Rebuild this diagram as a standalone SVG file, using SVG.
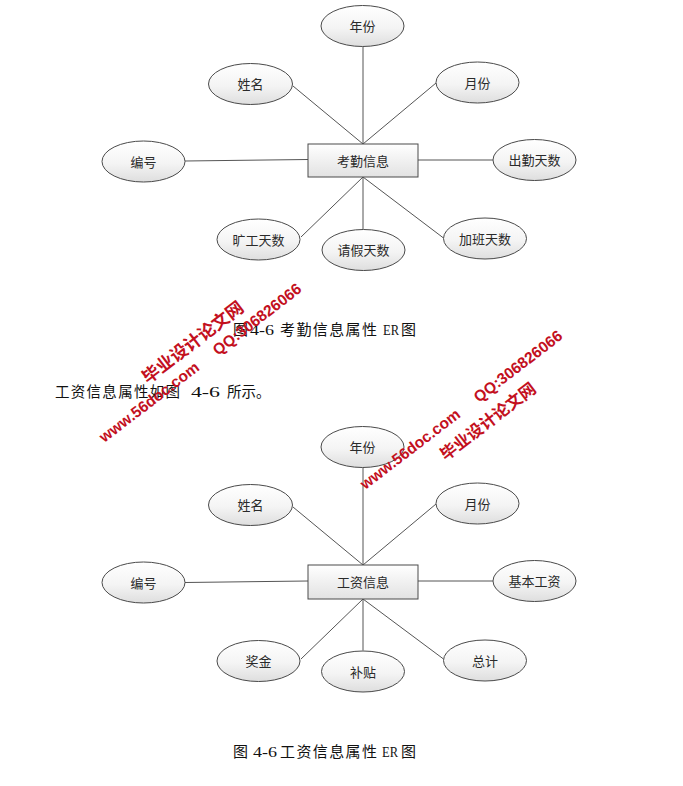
<svg xmlns="http://www.w3.org/2000/svg" width="683" height="786" viewBox="0 0 683 786">
<defs>
<linearGradient id="eg" x1="0" y1="0" x2="0" y2="1">
<stop offset="0" stop-color="#ffffff"/>
<stop offset="0.55" stop-color="#f4f4f4"/>
<stop offset="1" stop-color="#dedede"/>
</linearGradient>
<linearGradient id="bg" x1="0" y1="0" x2="0" y2="1">
<stop offset="0" stop-color="#ffffff"/>
<stop offset="1" stop-color="#e2e2e2"/>
</linearGradient>
</defs>
<style>
.e{fill:url(#eg);stroke:#4a4a4a;stroke-width:1}
.b{fill:url(#bg);stroke:#4a4a4a;stroke-width:1}
.t{font-family:"Noto Sans CJK SC","Liberation Sans",sans-serif;font-size:13px;fill:#2a2a2a;text-anchor:middle}
.c{stroke:#555;stroke-width:1;fill:none}
.cap{font-family:"Liberation Serif","Noto Sans CJK SC",serif;font-size:15px;fill:#111}
.para{font-family:"Liberation Serif","Noto Sans CJK SC",serif;font-size:14.5px;fill:#111}
.w1{font-family:"Liberation Sans",Arial,sans-serif;font-weight:bold;font-size:15.5px;fill:#c3101e}
.w2{font-family:"Noto Sans CJK SC",sans-serif;font-weight:bold;fill:#c3101e;text-anchor:middle}
</style>
<rect width="683" height="786" fill="#ffffff"/>

<g id="connectors">
<line class="c" x1="363" y1="46.5" x2="363" y2="144"/>
<line class="c" x1="293" y1="86" x2="363" y2="144"/>
<line class="c" x1="436" y1="83" x2="363" y2="144"/>
<line class="c" x1="185" y1="161" x2="308" y2="159.5"/>
<line class="c" x1="418" y1="160" x2="493" y2="160"/>
<line class="c" x1="363" y1="177" x2="301" y2="237"/>
<line class="c" x1="363" y1="177" x2="363" y2="229.5"/>
<line class="c" x1="363" y1="177" x2="443.5" y2="238"/>

<line class="c" x1="363" y1="467.5" x2="363" y2="565"/>
<line class="c" x1="293" y1="507" x2="363" y2="565"/>
<line class="c" x1="436" y1="504" x2="363" y2="565"/>
<line class="c" x1="185" y1="582.5" x2="308" y2="581"/>
<line class="c" x1="418" y1="581" x2="493" y2="581"/>
<line class="c" x1="363" y1="599" x2="301" y2="659"/>
<line class="c" x1="363" y1="599" x2="363" y2="650.5"/>
<line class="c" x1="363" y1="599" x2="443.5" y2="659"/>
</g>

<g id="kaoqin">
<rect class="b" x="308" y="144" width="110" height="33"/>
<text class="t" x="363" y="165.5">考勤信息</text>
</g>
<g id="nianfen1"><ellipse class="e" cx="362.5" cy="26" rx="41.5" ry="20.5"/><text class="t" x="362.5" y="31">年份</text></g>
<g id="xingming1"><ellipse class="e" cx="250.5" cy="84" rx="42" ry="20.5"/><text class="t" x="250.5" y="89">姓名</text></g>
<g id="yuefen1"><ellipse class="e" cx="477.5" cy="82.5" rx="41.5" ry="20.5"/><text class="t" x="477.5" y="87.5">月份</text></g>
<g id="bianhao1"><ellipse class="e" cx="143.5" cy="161.5" rx="41.5" ry="20.5"/><text class="t" x="143.5" y="166.5">编号</text></g>
<g id="chuqin"><ellipse class="e" cx="534.5" cy="160" rx="41.5" ry="20.5"/><text class="t" x="534.5" y="165">出勤天数</text></g>
<g id="kuanggong"><ellipse class="e" cx="258.5" cy="239.5" rx="41.5" ry="20.5"/><text class="t" x="258.5" y="244.5">旷工天数</text></g>
<g id="qingjia"><ellipse class="e" cx="363.5" cy="250" rx="41.5" ry="20.5"/><text class="t" x="363.5" y="255">请假天数</text></g>
<g id="jiaban"><ellipse class="e" cx="485" cy="238.5" rx="41.5" ry="20.5"/><text class="t" x="485" y="243.5">加班天数</text></g>

<g id="caption1">
<text class="cap" y="335"><tspan x="233">图</tspan><tspan x="250" textLength="24" lengthAdjust="spacingAndGlyphs">4-6</tspan><tspan x="280" textLength="97">考勤信息属性</tspan><tspan x="383" textLength="16" lengthAdjust="spacingAndGlyphs">ER</tspan><tspan x="401">图</tspan></text>
</g>

<g id="paragraph">
<text class="para" y="397"><tspan x="55" textLength="125">工资信息属性如图</tspan><tspan x="191" textLength="29" lengthAdjust="spacingAndGlyphs">4-6</tspan><tspan x="227">所示。</tspan></text>
</g>

<g id="gongzi">
<rect class="b" x="308" y="565" width="110" height="34"/>
<text class="t" x="363" y="587">工资信息</text>
</g>
<g id="nianfen2"><ellipse class="e" cx="362.5" cy="447" rx="41.5" ry="20.5"/><text class="t" x="362.5" y="452">年份</text></g>
<g id="xingming2"><ellipse class="e" cx="250.5" cy="505" rx="42" ry="20.5"/><text class="t" x="250.5" y="510">姓名</text></g>
<g id="yuefen2"><ellipse class="e" cx="477.5" cy="503.5" rx="41.5" ry="20.5"/><text class="t" x="477.5" y="508.5">月份</text></g>
<g id="bianhao2"><ellipse class="e" cx="143.5" cy="582.5" rx="41.5" ry="20.5"/><text class="t" x="143.5" y="587.5">编号</text></g>
<g id="jibengongzi"><ellipse class="e" cx="534.5" cy="581" rx="41.5" ry="20.5"/><text class="t" x="534.5" y="586">基本工资</text></g>
<g id="jiangjin"><ellipse class="e" cx="258.5" cy="661" rx="41.5" ry="20.5"/><text class="t" x="258.5" y="666">奖金</text></g>
<g id="butie"><ellipse class="e" cx="363" cy="671.5" rx="41.5" ry="20.5"/><text class="t" x="363" y="676.5">补贴</text></g>
<g id="zongji"><ellipse class="e" cx="485" cy="660.5" rx="41.5" ry="20.5"/><text class="t" x="485" y="665.5">总计</text></g>

<g id="caption2">
<text class="cap" y="757"><tspan x="233">图</tspan><tspan x="253" textLength="24" lengthAdjust="spacingAndGlyphs">4-6</tspan><tspan x="280" textLength="97">工资信息属性</tspan><tspan x="382" textLength="16" lengthAdjust="spacingAndGlyphs">ER</tspan><tspan x="401">图</tspan></text>
</g>

<g id="watermark1" transform="translate(200.5,363) rotate(-37.5)">
<text class="w1" x="-125" y="5" textLength="121">www.56doc.com</text>
<text class="w1" x="18" y="5" textLength="107">QQ:306826066</text>
<text class="w2" x="6.5" y="-15" font-size="17.5">毕业设计论文网</text>
</g>
<g id="watermark2" transform="translate(461.5,410) rotate(-37.5)">
<text class="w1" x="-125" y="5" textLength="121">www.56doc.com</text>
<text class="w1" x="18" y="5" textLength="107">QQ:306826066</text>
<text class="w2" x="14" y="31" font-size="16.5">毕业设计论文网</text>
</g>
</svg>
